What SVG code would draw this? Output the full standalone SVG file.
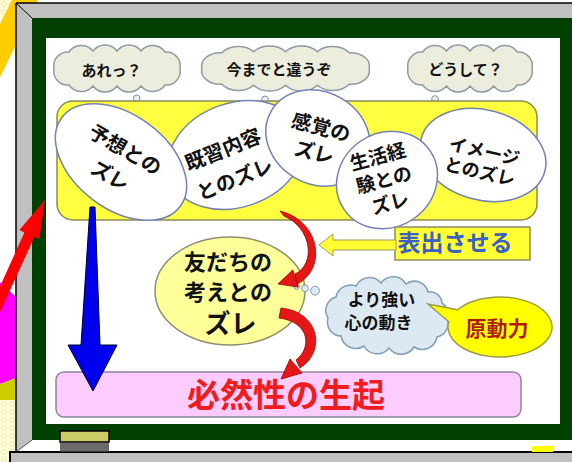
<svg xmlns="http://www.w3.org/2000/svg" width="572" height="462" viewBox="0 0 572 462">
<defs>
<style>
.jp{font-family:"Noto Sans CJK JP","Noto Sans CJK SC",sans-serif;font-weight:700;text-anchor:middle;fill:#111;}
.cloud{fill:#ededde;stroke:#8d9ba3;stroke-width:1.5;}
.bub{fill:#ffffff;stroke:#7382b3;stroke-width:1.5;}
.dot{fill:#eef0f5;stroke:#8090aa;stroke-width:1;}
.bdot{fill:#dfe9f1;stroke:#8299b0;stroke-width:1;}
.red{fill:#e41616;stroke:#9a0000;stroke-width:0.8;}
.edge{stroke:#000;fill:none;}
</style>
<path id="cl" class="cloud" vector-effect="non-scaling-stroke" d="M129,23.5 A14,14 0 0 1 114,40 A15,15 0 0 1 90,41 A15,15 0 0 1 66,41 A15,15 0 0 1 42,41 A15,15 0 0 1 18,40 A14,14 0 0 1 3,23.5 A14,14 0 0 1 18,7 A15,15 0 0 1 42,6 A15,15 0 0 1 66,6 A15,15 0 0 1 90,6 A15,15 0 0 1 114,7 A14,14 0 0 1 129,23.5 Z"/>
<pattern id="dia" width="8" height="8" patternUnits="userSpaceOnUse"><rect width="8" height="8" fill="#fffbd6"/><path d="M4,1 L7,4 L4,7 L1,4Z" fill="none" stroke="#f1e39c" stroke-width="0.8"/></pattern>
</defs>
<rect width="572" height="462" fill="#ffffff"/>
<!-- outside decorations -->
<polygon points="0,0 12,0 0,24" fill="url(#dia)"/>
<polygon points="12,0 38,0 0,77 0,24" fill="#ffcc00"/>
<polygon points="0,282 16,297 16,378 0,384" fill="#ff00ff"/>
<polygon points="0,384 16,378 16,400 0,400" fill="#cccc00"/>
<rect x="0" y="400" width="16" height="62" fill="url(#dia)"/>
<!-- blackboard frame -->
<g id="frame">
<polygon points="16,3 572,3 572,18 32,18" fill="#c0c0c0"/>
<polygon points="16,3 32,18 32,440 16,452" fill="#c0c0c0"/>
<rect x="32" y="18" width="540" height="422" fill="#004000"/>
<rect x="46" y="38" width="514" height="386" fill="#ffffff"/>
<line class="edge" x1="16" y1="3" x2="572" y2="3" stroke-width="1.5"/>
<line class="edge" x1="16" y1="3" x2="16" y2="452" stroke-width="1.5"/>
<line class="edge" x1="16" y1="3" x2="32" y2="18" stroke-width="1"/>
<line x1="32" y1="440" x2="16" y2="452" stroke="#555" stroke-width="1"/>
<rect x="10" y="452" width="562" height="10" fill="#c0c0c0"/>
<path class="edge" d="M10,462 V452 H572" stroke-width="2"/>
<rect x="60" y="442.5" width="49" height="9" fill="#6b6b6b"/>
<rect x="60" y="431" width="49" height="11" fill="#cccc66" stroke="#000" stroke-width="1.5"/>
<rect x="532" y="446" width="21" height="6" fill="#ffff00"/>
</g>
<!-- thought clouds -->
<g id="cloud-are">
<use href="#cl" transform="translate(51,45)"/>
<text class="jp" x="111.5" y="76" font-size="15">あれっ？</text>
<circle class="dot" cx="136.7" cy="98.3" r="3.3"/><circle class="dot" cx="142.7" cy="107.3" r="2.4"/><circle class="dot" cx="146" cy="114" r="1.5"/>
</g>
<g id="cloud-ima">
<use href="#cl" transform="translate(198,46) scale(1.326,0.957)"/>
<text class="jp" x="279" y="75" font-size="15">今までと違うぞ</text>
<circle class="dot" cx="265" cy="99.3" r="3.3"/><circle class="dot" cx="257.3" cy="108.3" r="2.4"/><circle class="dot" cx="251.7" cy="116.7" r="1.3"/>
</g>
<g id="cloud-dou">
<use href="#cl" transform="translate(405,45) scale(0.985,1)"/>
<text class="jp" x="465.5" y="75" font-size="15">どうして？</text>
<circle class="dot" cx="435" cy="99" r="3.3"/><circle class="dot" cx="423.3" cy="110" r="2.4"/><circle class="dot" cx="415" cy="118.3" r="1.5"/>
</g>
<!-- yellow band -->
<rect id="band" x="57" y="101" width="480" height="119" rx="16" fill="#ffff3f" stroke="#8a8a58" stroke-width="1.5"/>
<!-- ellipses -->
<g id="kishu">
<ellipse class="bub" cx="236" cy="155" rx="70" ry="52" transform="rotate(-20 236 155)"/>
<g transform="translate(229,164.5) rotate(-22)"><text class="jp" y="-9" font-size="20">既習内容</text><text class="jp" y="23" font-size="20">とのズレ</text></g>
</g>
<g id="yoso">
<ellipse class="bub" cx="121" cy="162" rx="74" ry="47" transform="rotate(37 121 162)"/>
<g transform="translate(117.5,163) rotate(30)"><text class="jp" y="-8" font-size="20">予想との</text><text class="jp" y="22" font-size="20">ズレ</text></g>
</g>
<g id="kankaku">
<ellipse class="bub" cx="318" cy="138" rx="54" ry="46" transform="rotate(30 318 138)"/>
<g transform="translate(317.5,140) rotate(15)"><text class="jp" y="-6" font-size="20">感覚の</text><text class="jp" y="20" font-size="20">ズレ</text></g>
</g>
<g id="image">
<ellipse class="bub" cx="483" cy="155" rx="64" ry="45" transform="rotate(15 483 155)"/>
<g transform="translate(482,161.5) rotate(13)"><text class="jp" y="-4" font-size="18">イメージ</text><text class="jp" y="17" font-size="18">とのズレ</text></g>
</g>
<g id="seikatsu">
<ellipse class="bub" cx="387" cy="180" rx="52" ry="47" transform="rotate(-35 387 180)"/>
<g transform="translate(384,180) rotate(-15)"><text class="jp" y="-17.3" font-size="19">生活経</text><text class="jp" y="6.7" font-size="19">験との</text><text class="jp" y="30.7" font-size="19">ズレ</text></g>
</g>
<!-- bottom box -->
<g id="hitsuzen">
<rect x="56" y="372" width="465" height="45" rx="8" fill="#ffccff" stroke="#8c84a0" stroke-width="1.5"/>
<text class="jp" x="286" y="407" font-size="33" style="fill:#ee1c1c">必然性の生起</text>
</g>
<!-- friend ellipse -->
<g id="tomodachi">
<ellipse cx="230" cy="291" rx="75" ry="54" fill="#ffff99" stroke="#8e8e70" stroke-width="1.5"/>
<text class="jp" x="228" y="270" font-size="22">友だちの</text>
<text class="jp" x="228" y="300" font-size="22">考えとの</text>
<text class="jp" x="230.5" y="333" font-size="26">ズレ</text>
</g>
<!-- stronger feeling cloud -->
<g id="kokoro">
<circle class="bdot" cx="296.7" cy="286.7" r="2.7"/><circle class="bdot" cx="305" cy="288.3" r="3.4"/><circle class="bdot" cx="315" cy="290.7" r="4.4"/>
<path fill="#dce9f2" stroke="#7f9fb5" stroke-width="1.5" d="M447,318 A14,14 0 0 1 437,337 A15,15 0 0 1 414,347 A15,15 0 0 1 389,348 A15,15 0 0 1 364,346 A15,15 0 0 1 341,336 A14,14 0 0 1 328,318 A14,14 0 0 1 336,297 A15,15 0 0 1 356,286 A15,15 0 0 1 381,283 A15,15 0 0 1 406,284 A14,14 0 0 1 428,292 A12,12 0 0 1 442,303 A12,12 0 0 1 447,318 Z"/>
<text class="jp" x="381.5" y="305.5" font-size="17">より強い</text>
<text class="jp" x="378.5" y="328.5" font-size="17">心の動き</text>
</g>
<!-- driving force -->
<g id="gendoryoku">
<path fill="#ffff00" stroke="#9c9c44" stroke-width="1.5" d="M448.8,321.8 L428,304 L457.4,309.8 A52,30 0 1 1 448.8,321.8 Z"/>
<text class="jp" x="497" y="336" font-size="21" style="fill:#b01e0a">原動力</text>
</g>
<!-- express label -->
<g id="hyoshutsu">
<rect x="395" y="227" width="135" height="33" fill="#ffff33" stroke="#8b8b66" stroke-width="1.5"/>
<text class="jp" x="455" y="251" font-size="23" style="fill:#3d5fc4">表出させる</text>
</g>
<!-- connectors -->
<g id="connectors">
<polygon points="319,245 333,234 333,240 396,240 396,250 333,250 333,256" fill="#ffff33" stroke="#9a9a60" stroke-width="1"/>
<polygon points="90,207 95,207 100,345 117,345 93,391 68,345 81,345" fill="#0000ee" stroke="#000022" stroke-width="1"/>
<path class="red" d="M280,211 C322,222 326,270 297,284 L295,274 C316,264 312,228 284,216 Z"/>
<polygon class="red" points="278,284 292.8,269.9 298.2,287.1"/>
<path class="red" d="M281,308 C320,312 326,352 300,368 L296,360 C312,348 310,322 279,318 Z"/>
<polygon class="red" points="281,379 290,359 302,373"/>
<polygon points="45,200 39.4,239.1 34.4,236.9 -4.5,322 -14,317.7 24.4,232.4 19.4,230.1" fill="#ff0000"/>
</g>
</svg>
